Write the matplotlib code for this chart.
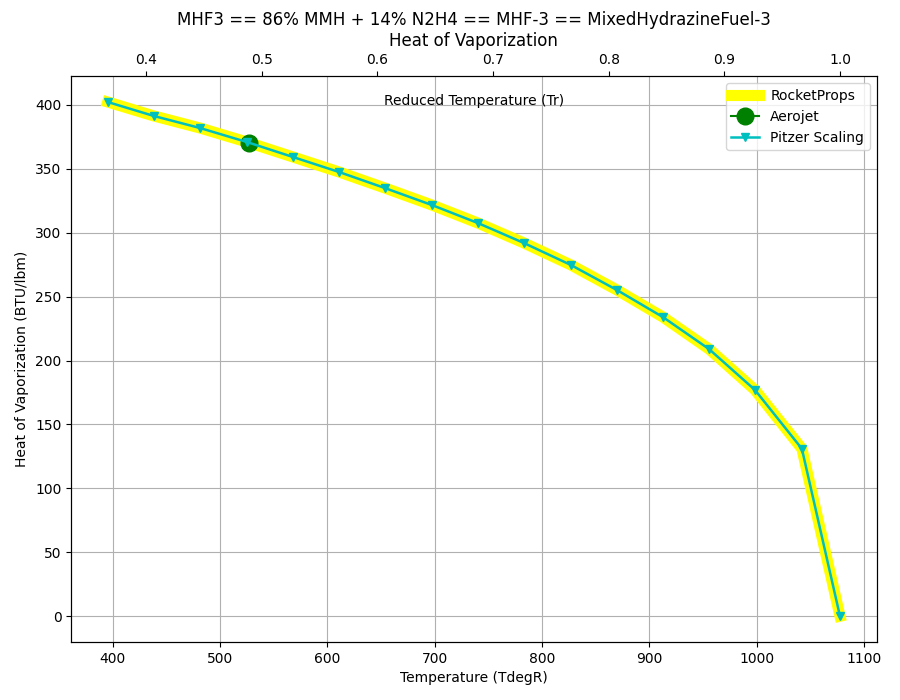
import matplotlib
matplotlib.use("Agg")
from matplotlib import pyplot as plt

# critical temperature (degR), for reduced temperature axis
Tc = 1077.5

temp_degR = [395.3, 438.2, 481.1, 524.9, 567.8, 610.6, 653.5, 697.3, 740.2,
             783.0, 826.8, 869.7, 912.6, 955.5, 998.3, 1042.0, 1077.5]
hvap_rocketprops = [402.3, 391.4, 382.0, 371.0, 359.3, 347.6, 335.0, 321.7, 307.6,
                    292.0, 274.8, 255.2, 234.0, 209.0, 177.0, 131.0, 0.0]
hvap_pitzer = [402.3, 391.4, 382.0, 371.0, 359.3, 347.6, 335.0, 321.7, 307.6,
               292.0, 274.8, 255.2, 234.0, 209.0, 177.0, 131.0, 0.0]

aerojet_T = [527.0]
aerojet_hvap = [370.0]

fig = plt.figure(figsize=(9, 7), dpi=100)
ax = fig.add_axes([0.079, 0.083, 0.895, 0.808])

ax.plot(temp_degR, hvap_rocketprops, '-', color='yellow', linewidth=8, label='RocketProps')
ax.plot(aerojet_T, aerojet_hvap, 'o-', color='g', markersize=12, label='Aerojet')
ax.plot(temp_degR, hvap_pitzer, 'v-', color='c', linewidth=1.8, label='Pitzer Scaling')

ax.grid(True, color='#b0b0b0')
ax.set_xlabel('Temperature (TdegR)')
ax.set_ylabel('Heat of Vaporization (BTU/lbm)')
ax.legend(loc='upper right')

ax2 = ax.twiny()
x0, x1 = ax.get_xlim()
ax2.set_xlim(x0 / Tc, x1 / Tc)
ax.text(0.5, 0.956, 'Reduced Temperature (Tr)', transform=ax.transAxes,
        ha='center', va='center')

ax.set_title('MHF3 == 86% MMH + 14% N2H4 == MHF-3 == MixedHydrazineFuel-3\nHeat of Vaporization',
             fontsize=12, pad=22)

fig.savefig('out.png')
